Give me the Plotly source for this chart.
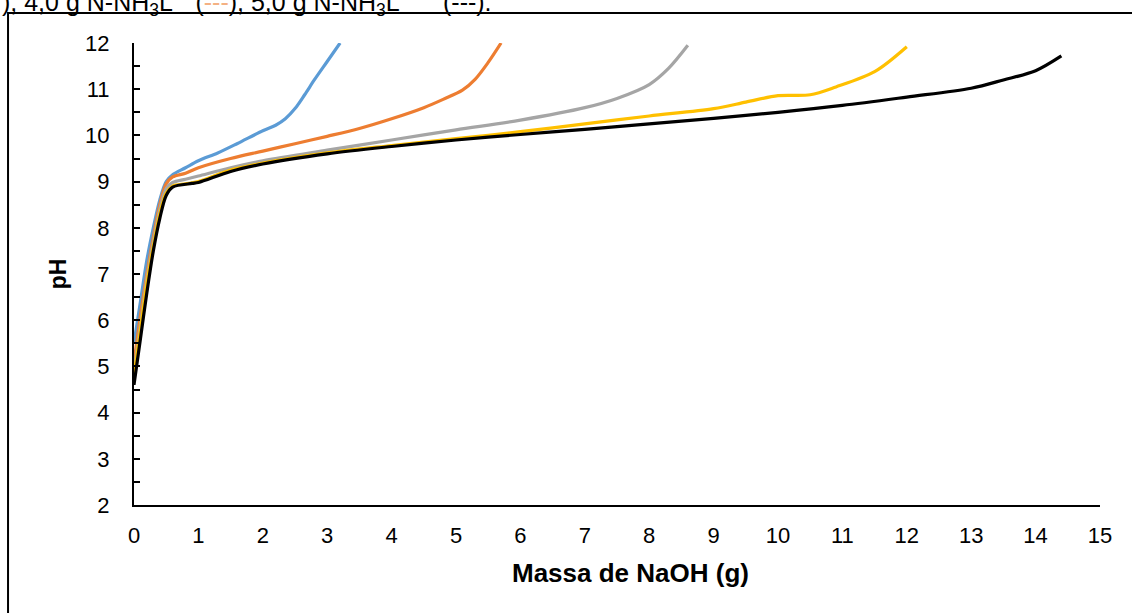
import plotly.graph_objects as go

# Titration curves: pH versus mass of NaOH added, one curve per ammonia load
blue_x = [0, 0.1, 0.2, 0.3, 0.4, 0.5, 0.6, 0.8, 1.0, 1.3, 1.6, 2.0, 2.2, 2.35, 2.5, 2.65, 2.8, 3.0, 3.2]
blue_y = [5.5, 6.4, 7.3, 8.0, 8.6, 9.0, 9.15, 9.3, 9.45, 9.62, 9.82, 10.1, 10.22, 10.36, 10.58, 10.88, 11.2, 11.6, 12.0]

orange_x = [0, 0.1, 0.2, 0.3, 0.4, 0.5, 0.6, 0.8, 1.0, 1.5, 2.0, 2.5, 3.0, 3.5, 4.0, 4.5, 4.8, 5.1, 5.3, 5.5, 5.7]
orange_y = [5.1, 6.1, 7.0, 7.8, 8.5, 8.95, 9.1, 9.18, 9.3, 9.5, 9.66, 9.82, 9.98, 10.15, 10.36, 10.6, 10.78, 10.98, 11.22, 11.58, 12.0]

gray_x = [0, 0.1, 0.2, 0.3, 0.4, 0.5, 0.6, 0.8, 1.0, 1.5, 2.0, 3.0, 4.0, 5.0, 6.0, 7.0, 7.5, 8.0, 8.3, 8.6]
gray_y = [4.9, 5.9, 6.9, 7.7, 8.4, 8.85, 8.98, 9.05, 9.12, 9.3, 9.45, 9.68, 9.9, 10.12, 10.33, 10.6, 10.8, 11.1, 11.45, 11.95]

yellow_x = [0, 0.1, 0.2, 0.3, 0.4, 0.5, 0.6, 0.8, 1.0, 1.5, 2.0, 3.0, 4.0, 5.0, 6.0, 7.0, 8.0, 9.0, 9.5, 10.0, 10.5, 10.9, 11.5, 12.0]
yellow_y = [4.8, 5.8, 6.8, 7.6, 8.3, 8.75, 8.9, 8.95, 9.0, 9.25, 9.4, 9.62, 9.78, 9.93, 10.08, 10.25, 10.42, 10.58, 10.72, 10.86, 10.88, 11.05, 11.38, 11.92]

black_x = [0, 0.1, 0.2, 0.3, 0.4, 0.5, 0.6, 0.9, 1.0, 1.5, 2.0, 3.0, 4.0, 5.0, 6.0, 7.0, 8.0, 9.0, 10.0, 11.0, 12.0, 13.0, 13.5, 14.0, 14.4]
black_y = [4.6, 5.6, 6.6, 7.5, 8.2, 8.7, 8.88, 8.96, 8.98, 9.22, 9.38, 9.6, 9.76, 9.9, 10.02, 10.13, 10.25, 10.37, 10.5, 10.65, 10.83, 11.02, 11.2, 11.4, 11.72]

x_ticks = list(range(0, 16))
y_ticks = list(range(2, 13))

series = [
    (blue_x, blue_y, "#5B9BD5"),
    (orange_x, orange_y, "#ED7D31"),
    (gray_x, gray_y, "#A5A5A5"),
    (yellow_x, yellow_y, "#FFC000"),
    (black_x, black_y, "#000000"),
]

fig = go.Figure()
for xs, ys, col in series:
    fig.add_trace(go.Scatter(
        x=xs, y=ys, mode="lines",
        line=dict(color=col, width=3.2, shape="spline", smoothing=0.9),
        showlegend=False, hoverinfo="skip",
    ))

font_family = "Liberation Sans, Arial, sans-serif"

fig.update_layout(
    width=1132, height=613,
    margin=dict(l=134, r=32, t=43, b=108),
    paper_bgcolor="white", plot_bgcolor="white",
    font=dict(family=font_family, size=22, color="black"),
    xaxis=dict(
        range=[0, 15], tickvals=x_ticks, ticks="",
        showline=True, linecolor="black", linewidth=2,
        showgrid=False, zeroline=False,
        ticklabelstandoff=10,
    ),
    yaxis=dict(
        range=[2, 12], tickvals=y_ticks, ticks="inside", ticklen=6,
        tickwidth=2, tickcolor="black",
        minor=dict(dtick=0.5, ticks="inside", ticklen=6, tickwidth=2, tickcolor="black"),
        showline=True, linecolor="black", linewidth=2,
        showgrid=False, zeroline=False,
        ticklabelstandoff=18,
        title=dict(text="<b>pH</b>", font=dict(size=23), standoff=12),
    ),
)

# X-axis title, set slightly right of the axis centre
fig.add_annotation(
    xref="paper", yref="paper", x=0.5135, y=-0.148,
    xanchor="center", yanchor="middle", showarrow=False,
    text="<b>Massa de NaOH (g)</b>",
    font=dict(size=26, family=font_family, color="black"),
)

# Outer frame around the chart area
fig.add_shape(
    type="rect", xref="paper", yref="paper",
    x0=-0.1304, x1=1.2, y0=-0.5, y1=1.0649,
    line=dict(color="black", width=2), fillcolor="rgba(0,0,0,0)",
    layer="above",
)

# Caption line running along the top edge
fig.add_annotation(
    xref="paper", yref="paper", x=-0.1387, y=1.045,
    xanchor="left", yanchor="bottom", showarrow=False,
    text=("), 4,0 g N-NH<sub>3</sub>L<sup>-1</sup> (<span style='color:#F4B183'>---</span>), "
          "5,0 g N-NH<sub>3</sub>L<sup>-1</sup>&nbsp;&nbsp;&nbsp; (---)."),
    font=dict(size=25, family=font_family, color="black"),
)

fig.write_html("out.html")
